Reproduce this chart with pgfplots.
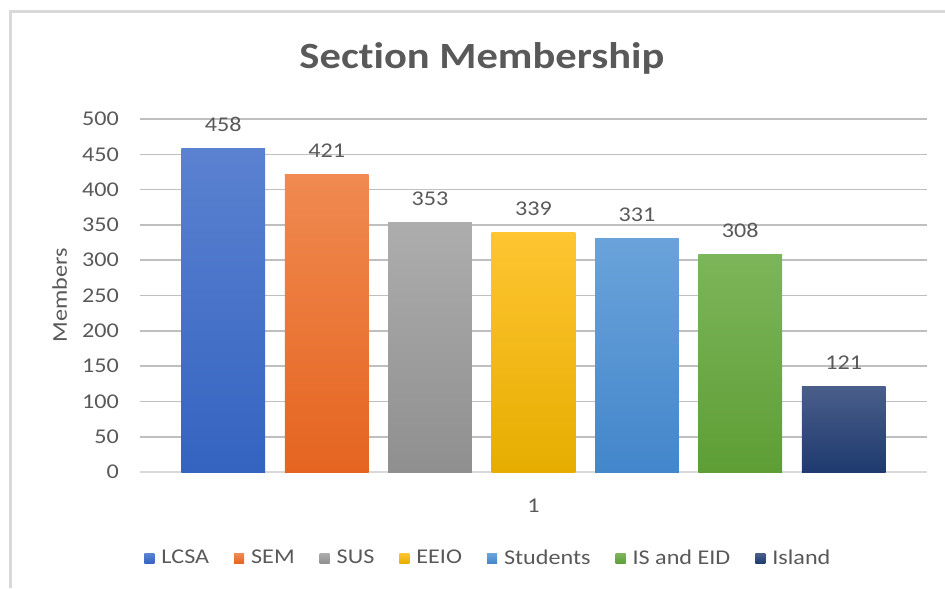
\documentclass[border=0pt]{standalone}
\usepackage{fontspec}
\setmainfont{Carlito}[FakeStretch=1.15, Ligatures={NoCommon}]
\usepackage{pgfplots}
\pgfplotsset{compat=1.18}
\definecolor{txt}{HTML}{595959}
\definecolor{grid}{HTML}{D9D9D9}
\begin{document}
\begin{tikzpicture}
\begin{scope}[x=0.5pt,y=-0.5pt]
\useasboundingbox (0,0) rectangle (945,588);
\draw[grid, line width=1.5pt] (10,588) -- (10,12) -- (945,12);
\node[text=txt, font=\fontsize{18.5}{22}\selectfont\bfseries] at (482,58) {Section Membership};
\end{scope}
\begin{axis}[
  at={(70pt,-236pt)}, anchor=south west,
  scale only axis, width=393.5pt, height=176.5pt,
  ybar, bar shift=0pt, bar width=0.81,
  xmin=-0.805, xmax=6.805, ymin=0, ymax=500,
  ytick={0,50,...,500},
  xtick={3}, xticklabels={1},
  major tick length=0pt,
  xtick style={draw=none}, ytick style={draw=none},
  axis y line*=left, axis x line*=bottom,
  y axis line style={draw=none},
  x axis line style={grid, line width=0.8pt},
  xmajorgrids=false, ymajorgrids=true, grid style={grid, line width=0.8pt},
  tick label style={text=txt, font=\fontsize{10.5}{12}\selectfont},
  /pgf/number format/assume math mode=true,
  yticklabel style={xshift=-7pt},
  xticklabel style={yshift=-10pt},
  ylabel={Members},
  ylabel style={at={(axis description cs:-0.102,0.5)}, anchor=center, rotate=0, text=txt, font=\fontsize{10.5}{12}\selectfont},
  nodes near coords,
  every node near coord/.append style={text=txt, font=\fontsize{10.5}{12}\selectfont, anchor=south, yshift=5pt},
  legend columns=7,
  legend style={at={(axis description cs:0.444,-0.245)}, anchor=center, draw=none, fill=none, font=\fontsize{10.5}{12}\selectfont, text=txt, column sep=0pt, /tikz/every even column/.append style={column sep=10.5pt}},
  legend image code/.code={\path[#1,draw=none] (0pt,-2.5pt) rectangle (5pt,2.5pt); \path (0pt,0pt) -- (6.5pt,0pt);},
]
\addplot[draw=none, top color={rgb,255:red,91;green,130;blue,209}, bottom color={rgb,255:red,52;green,99;blue,192}] coordinates {(0,458)};
\addplot[draw=none, top color={rgb,255:red,240;green,138;blue,80}, bottom color={rgb,255:red,229;green,100;blue,32}] coordinates {(1,421)};
\addplot[draw=none, top color={rgb,255:red,173;green,173;blue,173}, bottom color={rgb,255:red,143;green,143;blue,143}] coordinates {(2,353)};
\addplot[draw=none, top color={rgb,255:red,255;green,197;blue,50}, bottom color={rgb,255:red,230;green,173;blue,0}] coordinates {(3,339)};
\addplot[draw=none, top color={rgb,255:red,106;green,163;blue,218}, bottom color={rgb,255:red,67;green,134;blue,203}] coordinates {(4,331)};
\addplot[draw=none, top color={rgb,255:red,125;green,181;blue,90}, bottom color={rgb,255:red,94;green,158;blue,53}] coordinates {(5,308)};
\addplot[draw=none, top color={rgb,255:red,74;green,94;blue,138}, bottom color={rgb,255:red,30;green,58;blue,110}] coordinates {(6,121)};
\legend{LCSA,SEM,SUS,EEIO,Students,IS and EID,Island}
\end{axis}
\end{tikzpicture}
\end{document}
